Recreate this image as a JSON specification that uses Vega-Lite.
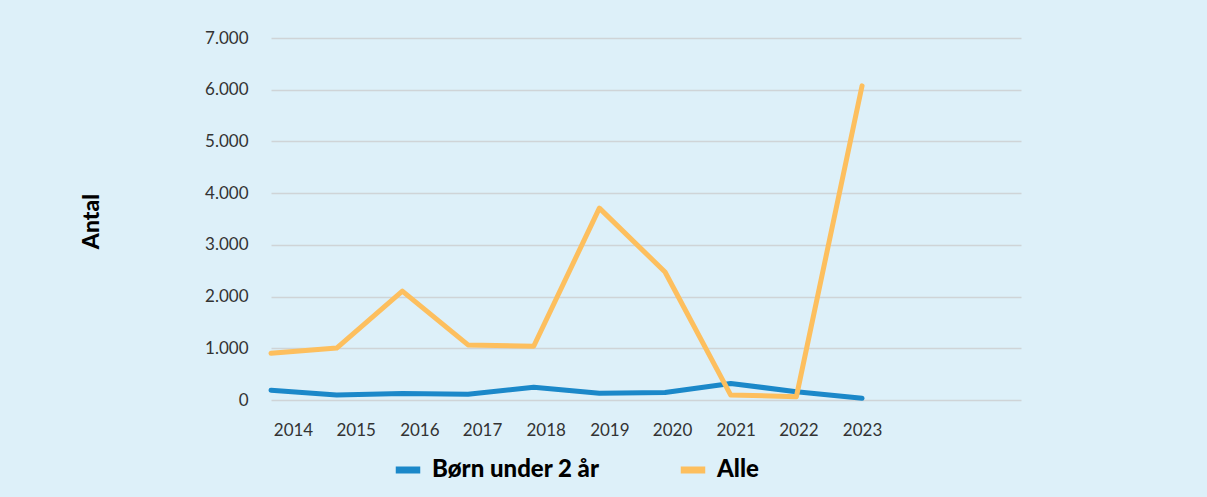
{
  "$schema": "https://vega.github.io/schema/vega-lite/v6.json",
  "width": 750,
  "height": 362,
  "autosize": {"type": "none"},
  "padding": {"left": 271, "top": 38, "right": 186, "bottom": 97},
  "background": "#ddf0f9",
  "config": {
    "locale": {"number": {"decimal": ",", "thousands": ".", "grouping": [3], "currency": ["", " kr."]}},
    "view": {"stroke": null},
    "font": "Lato"
  },
  "data": {
    "values": [
      {"year": 2014, "serie": "Børn under 2 år", "antal": 190},
      {"year": 2015, "serie": "Børn under 2 år", "antal": 95},
      {"year": 2016, "serie": "Børn under 2 år", "antal": 125},
      {"year": 2017, "serie": "Børn under 2 år", "antal": 110},
      {"year": 2018, "serie": "Børn under 2 år", "antal": 245},
      {"year": 2019, "serie": "Børn under 2 år", "antal": 130},
      {"year": 2020, "serie": "Børn under 2 år", "antal": 145},
      {"year": 2021, "serie": "Børn under 2 år", "antal": 320},
      {"year": 2022, "serie": "Børn under 2 år", "antal": 160},
      {"year": 2023, "serie": "Børn under 2 år", "antal": 32},
      {"year": 2014, "serie": "Alle", "antal": 905},
      {"year": 2015, "serie": "Alle", "antal": 1005},
      {"year": 2016, "serie": "Alle", "antal": 2105},
      {"year": 2017, "serie": "Alle", "antal": 1065},
      {"year": 2018, "serie": "Alle", "antal": 1040},
      {"year": 2019, "serie": "Alle", "antal": 3710},
      {"year": 2020, "serie": "Alle", "antal": 2475},
      {"year": 2021, "serie": "Alle", "antal": 95},
      {"year": 2022, "serie": "Alle", "antal": 65},
      {"year": 2023, "serie": "Alle", "antal": 6075}
    ]
  },
  "mark": {"type": "line", "strokeWidth": 5, "strokeCap": "round", "strokeJoin": "round"},
  "encoding": {
    "x": {
      "field": "year",
      "type": "quantitative",
      "scale": {"domain": [2014, 2025.42], "nice": false, "zero": false},
      "axis": {
        "title": null,
        "values": [2014, 2015, 2016, 2017, 2018, 2019, 2020, 2021, 2022, 2023],
        "format": "d",
        "grid": false,
        "domain": false,
        "ticks": false,
        "labelFlush": false,
        "labelOverlap": false,
        "labelPadding": 22,
        "labelFontSize": 17,
        "labelColor": "#333333",
        "labelFont": "Lato",
        "labelOffset": {
          "condition": [
            {"test": "datum.value == 2014", "value": 22},
            {"test": "datum.value == 2015", "value": 19},
            {"test": "datum.value == 2016", "value": 17},
            {"test": "datum.value == 2017", "value": 14},
            {"test": "datum.value == 2018", "value": 12},
            {"test": "datum.value == 2019", "value": 10},
            {"test": "datum.value == 2020", "value": 7},
            {"test": "datum.value == 2021", "value": 5},
            {"test": "datum.value == 2022", "value": 2}
          ],
          "value": 0
        }
      }
    },
    "y": {
      "field": "antal",
      "type": "quantitative",
      "scale": {"domain": [0, 7000], "nice": false},
      "axis": {
        "title": "Antal",
        "titleFont": "Lato",
        "titleFontSize": 23,
        "titleFontWeight": 900,
        "titleColor": "#000000",
        "titleX": -180,
        "titleY": 183,
        "titleAlign": "center",
        "titleBaseline": "middle",
        "titleAngle": -90,
        "values": [0, 1000, 2000, 3000, 4000, 5000, 6000, 7000],
        "format": ",d",
        "domain": false,
        "ticks": false,
        "grid": true,
        "gridColor": "#cfd4d7",
        "gridWidth": 1.5,
        "labelPadding": 23,
        "labelFontSize": 17,
        "labelColor": "#333333",
        "labelFont": "Lato"
      }
    },
    "color": {
      "field": "serie",
      "type": "nominal",
      "scale": {"domain": ["Børn under 2 år", "Alle"], "range": ["#1b88c9", "#fdbf5e"]},
      "legend": {
        "title": null,
        "orient": "none",
        "direction": "horizontal",
        "legendX": 121,
        "legendY": 416,
        "symbolType": "stroke",
        "symbolSize": 600,
        "symbolStrokeWidth": 7,
        "labelFont": "Lato",
        "labelFontSize": 24,
        "labelFontWeight": 900,
        "labelColor": "#000000",
        "labelOffset": 8,
        "labelLimit": 400,
        "columnPadding": 66
      }
    }
  }
}
